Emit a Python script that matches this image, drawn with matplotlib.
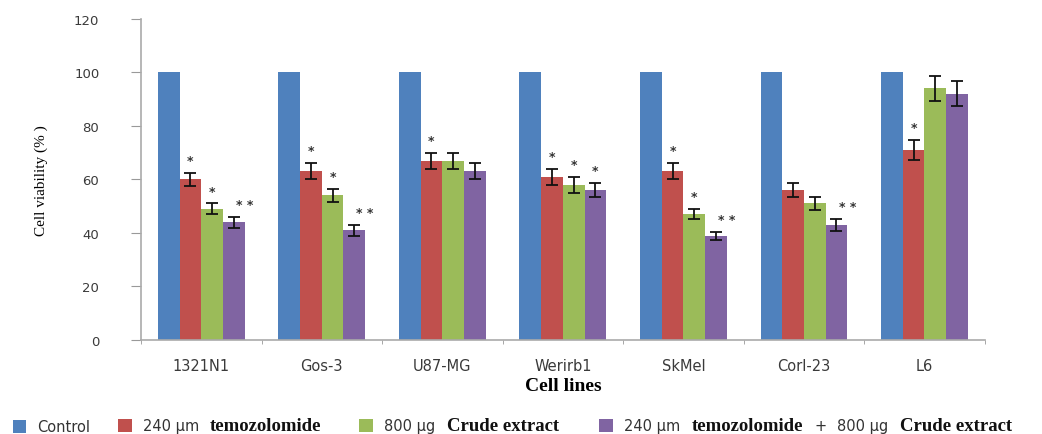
import matplotlib.pyplot as plt
import numpy as np
from matplotlib.offsetbox import TextArea, DrawingArea, HPacker, AnchoredOffsetbox
from matplotlib.patches import Rectangle

cell_lines = ['1321N1', 'Gos-3', 'U87-MG', 'Werirb1', 'SkMel', 'Corl-23', 'L6']

control = [100, 100, 100, 100, 100, 100, 100]
tmz = [60, 63, 67, 61, 63, 56, 71]
crude = [49, 54, 67, 58, 47, 51, 94]
combo = [44, 41, 63, 56, 39, 43, 92]

tmz_err = [2.5, 3, 3, 3, 3, 2.7, 3.8]
crude_err = [2, 2.5, 3, 3, 2, 2.5, 4.7]
combo_err = [2, 2, 3, 2.5, 1.5, 2.2, 4.7]

tmz_sig = ['*', '*', '*', '*', '*', '', '*']
crude_sig = ['*', '*', '', '*', '*', '', '']
combo_sig = ['* *', '* *', '', '*', '* *', '* *', '']

colors = ['#4F81BD', '#C0504D', '#9BBB59', '#8064A2']

fig = plt.figure(figsize=(10.42, 4.35), dpi=100)
ax = fig.add_axes([0.1353, 0.216, 0.8097, 0.739])

x = np.arange(len(cell_lines))
w = 0.18
offsets = [-1.5 * w, -0.5 * w, 0.5 * w, 1.5 * w]

ax.bar(x + offsets[0], control, w, color=colors[0])
series = [(tmz, tmz_err, tmz_sig), (crude, crude_err, crude_sig), (combo, combo_err, combo_sig)]
for i, (vals, errs, sigs) in enumerate(series, start=1):
    xs = x + offsets[i]
    ax.bar(xs, vals, w, color=colors[i])
    ax.errorbar(xs, vals, yerr=errs, fmt='none', ecolor='#111111',
                elinewidth=1.3, capsize=4, capthick=1.3)
    for xi, v, e, s in zip(xs, vals, errs, sigs):
        if not s:
            continue
        dx = 0.5 * w if s == '* *' else 0
        ax.text(xi + dx, v + e + 2.2, s, ha='center', va='bottom',
                fontsize=9, color='#333333', fontweight='bold')

ax.set_xlim(-0.5, len(cell_lines) - 0.5)
ax.set_ylim(0, 120)
ax.set_yticks(range(0, 121, 20))
ax.set_xticks(x)
ax.set_xticklabels(cell_lines)
ax.set_xticks(np.arange(-0.5, len(cell_lines)), minor=True)
ax.tick_params(axis='x', which='major', length=0, pad=13, labelsize=10.5,
               labelcolor='#3a3a3a')
ax.tick_params(axis='x', which='minor', length=3, color='#999999')
ax.tick_params(axis='y', length=7, color='#999999', pad=23, labelsize=9.5,
               labelcolor='#3a3a3a')

for s in ['top', 'right']:
    ax.spines[s].set_visible(False)
for s in ['left', 'bottom']:
    ax.spines[s].set_color('#aaaaaa')
    ax.spines[s].set_linewidth(1.2)

ax.set_xlabel('Cell lines', family='Liberation Serif', fontweight='bold',
              fontsize=14, labelpad=3)
ax.set_ylabel('Cell viability (% )', family='Liberation Serif', fontsize=11,
              labelpad=19)

# legend row with mixed fonts, one box per entry
sans = dict(family='DejaVu Sans', size=10.5, color='#333333')
serif = dict(family='Liberation Serif', size=13.5, weight='bold', color='#111111')


def swatch(c):
    da = DrawingArea(10, 9, 0, 0)
    da.add_artist(Rectangle((0, 0), 10, 9, facecolor=c, edgecolor='none'))
    return da


def txt(s, props):
    return TextArea(s, textprops=props)


entries = [
    [swatch(colors[0]), txt('Control', sans)],
    [swatch(colors[1]), txt('240 μm', sans), txt('temozolomide', serif)],
    [swatch(colors[2]), txt('800 μg', sans), txt('Crude extract', serif)],
    [swatch(colors[3]), txt('240 μm', sans), txt('temozolomide', serif),
     txt('+', sans), txt('800 μg', sans), txt('Crude extract', serif)],
]
starts = [0.012, 0.113, 0.345, 0.575]
for entry, x0 in zip(entries, starts):
    box = HPacker(children=entry, pad=0, sep=8, align='center')
    leg = AnchoredOffsetbox(loc='lower left', child=box, frameon=False,
                            bbox_to_anchor=(x0, 0.0), bbox_transform=fig.transFigure,
                            borderpad=0, pad=0)
    fig.add_artist(leg)

fig.savefig('out.png', dpi=100)
